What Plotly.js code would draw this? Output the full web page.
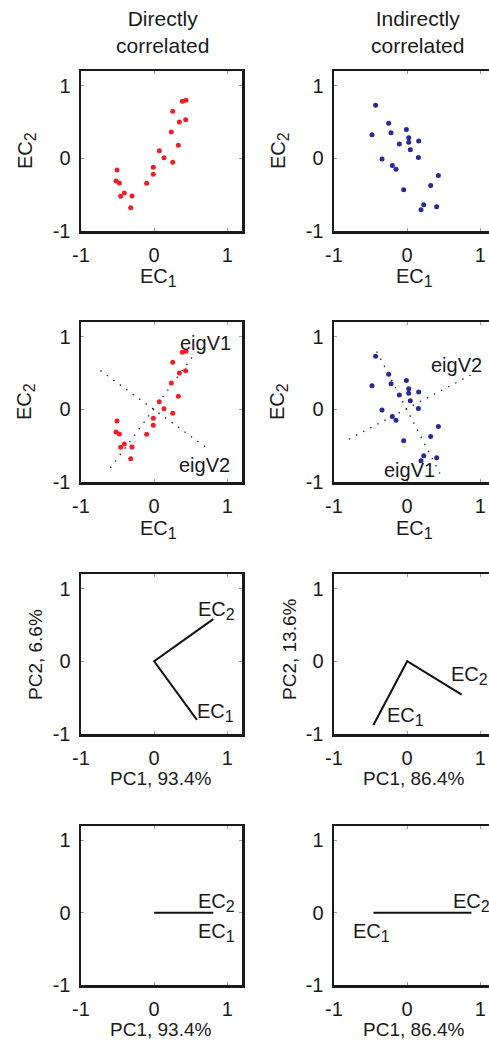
<!DOCTYPE html>
<html>
<head>
<meta charset="utf-8">
<script src="https://cdn.plot.ly/plotly-3.0.1.min.js"></script>
<style>html,body{margin:0;padding:0;background:#fff;}#chart{width:489px;height:1040px;}</style>
</head>
<body>
<div id="chart"></div>
<script>
// ---------- data ----------
var columnTitles = [["Directly", "correlated"], ["Indirectly", "correlated"]];
var tickVals = [-1, 0, 1];
var tickText = ["-1", "0", "1"];

// directly correlated samples (EC1, EC2)
var directEC1 = [-0.508, -0.522, -0.476, -0.458, -0.408, -0.303, -0.321, -0.103, -0.012, -0.012, 0.070, 0.134, 0.253, 0.234, 0.330, 0.253, 0.344, 0.430, 0.385, 0.435];
var directEC2 = [-0.161, -0.313, -0.340, -0.523, -0.477, -0.518, -0.679, -0.345, -0.221, -0.124, 0.105, 0.008, -0.056, 0.361, 0.178, 0.645, 0.499, 0.531, 0.783, 0.797];

// indirectly correlated samples (EC1, EC2)
var indirectEC1 = [-0.431, -0.253, -0.481, -0.221, -0.011, 0.021, -0.107, 0.021, 0.157, 0.043, -0.344, 0.153, -0.203, -0.153, 0.426, 0.321, -0.048, 0.226, 0.403, 0.189];
var indirectEC2 = [0.730, 0.483, 0.324, 0.351, 0.397, 0.283, 0.196, 0.219, 0.237, 0.118, -0.009, 0.009, -0.101, -0.151, -0.238, -0.375, -0.434, -0.639, -0.667, -0.708];

// eigenvector lines (start, end)
var directEigV1X = [-0.599, 0.526], directEigV1Y = [-0.807, 0.726];
var directEigV2X = [-0.736, 0.699], directEigV2Y = [0.533, -0.517];
var indirectEigV1X = [-0.417, 0.449], indirectEigV1Y = [0.795, -0.885];
var indirectEigV2X = [-0.795, 0.872], indirectEigV2Y = [-0.411, 0.473];

// loadings on PCs: [EC1, origin, EC2]
var directLoadPC1 = [0.584, 0, 0.807];
var directLoadPC2 = [-0.807, 0, 0.580];
var indirectLoadPC1 = [-0.461, 0, 0.744];
var indirectLoadPC2 = [-0.876, 0, -0.458];

// 1-D projections on PC1: [EC1, origin, EC2]
var directProjPC1 = [0.584, 0, 0.808];
var indirectProjPC1 = [-0.461, 0, 0.877];
var zeroLine = [0, 0, 0];

var pcLabels = {
  directPC1: "PC1, 93.4%", directPC2: "PC2, 6.6%",
  indirectPC1: "PC1, 86.4%", indirectPC2: "PC2, 13.6%"
};

// ---------- layout helpers ----------
var W = 489, H = 1040;
var FONT = "Liberation Sans, Arial, Helvetica, sans-serif";
var TXT = "#1a1a1a";
function px(x) { return x / W; }
function py(y) { return 1 - y / H; }
function ec(i) { return "EC<sub><span style=\"font-size:16px\">" + i + "</span></sub>"; }

var colX = [[81, 242, [-1, 1.2]], [334, 489, [-1, 1.118]]];
var rowY = [[71, 231], [322, 482], [574, 734], [826, 985]];

var layout = {
  width: W, height: H,
  margin: {l: 0, r: 0, t: 0, b: 0},
  paper_bgcolor: "#fff", plot_bgcolor: "#fff",
  showlegend: false,
  font: {family: FONT, size: 20, color: TXT},
  annotations: []
};

var n = 0;
for (var r = 0; r < 4; r++) {
  for (var c = 0; c < 2; c++) {
    n++;
    var sx = n === 1 ? "" : String(n);
    var right = c === 1;
    layout["xaxis" + sx] = {
      domain: [px(colX[c][0]), px(colX[c][1])],
      range: colX[c][2],
      anchor: "y" + sx,
      showgrid: false, zeroline: false,
      showline: true, linewidth: 2.5, linecolor: "#1a1a1a",
      mirror: "ticks",
      ticks: "inside", ticklen: 3, tickwidth: 1, tickcolor: "#9a9a9a",
      tickvals: tickVals, ticktext: tickText,
      tickfont: {family: FONT, size: 20, color: TXT},
      ticklabelstandoff: 4,
      fixedrange: true
    };
    layout["yaxis" + sx] = {
      domain: [py(rowY[r][1]), py(rowY[r][0])],
      range: [-1, 1.2],
      anchor: "x" + sx,
      showgrid: false, zeroline: false,
      showline: true, linewidth: 2.5, linecolor: "#1a1a1a",
      mirror: right ? false : "ticks",
      ticks: "inside", ticklen: 3, tickwidth: 1, tickcolor: "#9a9a9a",
      tickvals: tickVals, ticktext: tickText,
      tickfont: {family: FONT, size: 20, color: TXT},
      ticklabelstandoff: 4,
      fixedrange: true
    };
  }
}

function ann(text, x, y, opts) {
  var a = {text: text, x: x, y: y, xref: "paper", yref: "paper",
    showarrow: false, font: {family: FONT, size: 20, color: TXT},
    xanchor: "center", yanchor: "middle"};
  for (var k in opts) a[k] = opts[k];
  layout.annotations.push(a);
}
function dann(text, xr, yr, x, y, opts) {
  var a = {text: text, x: x, y: y, xref: xr, yref: yr,
    showarrow: false, font: {family: FONT, size: 20, color: TXT},
    xanchor: "left", yanchor: "middle"};
  for (var k in opts) a[k] = opts[k];
  layout.annotations.push(a);
}

// column titles (two lines each)
var TF = {family: FONT, size: 21, color: TXT};
ann(columnTitles[0].join("<br>"), px(162), py(32), {font: TF});
ann(columnTitles[1].join("<br>"), px(417), py(32), {font: TF});

// axis titles rows 1,2
[0, 1].forEach(function (r) {
  var yc = (rowY[r][0] + rowY[r][1]) / 2;
  ann(ec(1), px(158), py(rowY[r][1] + 47));
  ann(ec(1), px(414), py(rowY[r][1] + 47));
  ann(ec(2), px(26), py(yc), {textangle: -90});
  ann(ec(2), px(279), py(yc), {textangle: -90});
});
// row 3
var LF = {family: FONT, size: 19, color: TXT};
ann(pcLabels.directPC1, px(160), py(778), {font: LF, height: 22});
ann(pcLabels.indirectPC1, px(413), py(778), {font: LF, height: 22});
ann(pcLabels.directPC2, px(35), py(655), {textangle: -90, font: LF});
ann(pcLabels.indirectPC2, px(289), py(650), {textangle: -90, font: LF});
// row 4
ann(pcLabels.directPC1, px(160), py(1029), {font: LF, height: 22});
ann(pcLabels.indirectPC1, px(413), py(1029), {font: LF, height: 22});

// in-plot labels
dann("eigV1", "x3", "y3", 0.708, 0.91, {xanchor: "center"});
dann("eigV2", "x3", "y3", 0.685, -0.77, {xanchor: "center"});
dann("eigV2", "x4", "y4", 0.676, 0.611, {xanchor: "center"});
dann("eigV1", "x4", "y4", 0.025, -0.839, {xanchor: "center"});

dann(ec(2), "x5", "y5", 0.57, 0.70);
dann(ec(1), "x5", "y5", 0.56, -0.70);
dann(ec(1), "x6", "y6", -0.30, -0.76);
dann(ec(2), "x6", "y6", 0.57, -0.19);
dann(ec(2), "x7", "y7", 0.57, 0.14);
dann(ec(1), "x7", "y7", 0.57, -0.28);
dann(ec(2), "x8", "y8", 0.60, 0.14);
dann(ec(1), "x8", "y8", -0.77, -0.28);

// ---------- traces ----------
var RED = "rgb(240,30,40)", BLUE = "rgb(40,40,150)";
function pts(x, y, col, xa, ya) {
  return {type: "scatter", mode: "markers", x: x, y: y, xaxis: xa, yaxis: ya,
    marker: {size: 5, color: col}, hoverinfo: "skip"};
}
function dotted(x, y, xa, ya) {
  return {type: "scatter", mode: "lines", x: x, y: y, xaxis: xa, yaxis: ya,
    line: {color: "#222", width: 1.3, dash: "1.5px,6.5px"}, hoverinfo: "skip"};
}
function solid(x, y, xa, ya) {
  return {type: "scatter", mode: "lines", x: x, y: y, xaxis: xa, yaxis: ya,
    line: {color: "#111", width: 2}, hoverinfo: "skip"};
}

var traces = [
  pts(directEC1, directEC2, RED, "x", "y"),
  pts(indirectEC1, indirectEC2, BLUE, "x2", "y2"),
  dotted(directEigV1X, directEigV1Y, "x3", "y3"),
  dotted(directEigV2X, directEigV2Y, "x3", "y3"),
  pts(directEC1, directEC2, RED, "x3", "y3"),
  dotted(indirectEigV1X, indirectEigV1Y, "x4", "y4"),
  dotted(indirectEigV2X, indirectEigV2Y, "x4", "y4"),
  pts(indirectEC1, indirectEC2, BLUE, "x4", "y4"),
  solid(directLoadPC1, directLoadPC2, "x5", "y5"),
  solid(indirectLoadPC1, indirectLoadPC2, "x6", "y6"),
  solid(directProjPC1, zeroLine, "x7", "y7"),
  solid(indirectProjPC1, zeroLine, "x8", "y8")
];

Plotly.newPlot("chart", traces, layout, {staticPlot: true, displayModeBar: false});
</script>
</body>
</html>
